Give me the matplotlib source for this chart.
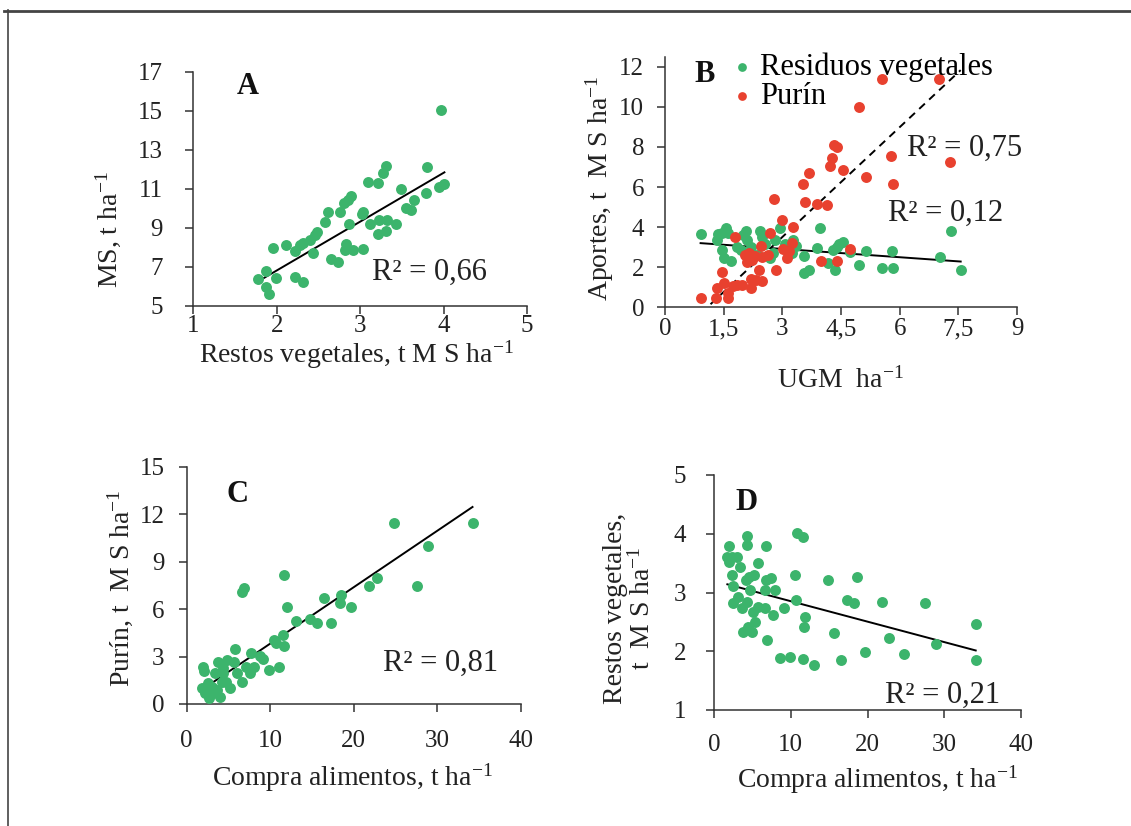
import numpy as np
import matplotlib
matplotlib.use("Agg")
import matplotlib.pyplot as plt
from matplotlib.lines import Line2D

plt.rcParams["font.family"] = ["Liberation Serif", "DejaVu Serif"]
plt.rcParams["mathtext.fontset"] = "custom"
plt.rcParams["mathtext.rm"] = "Liberation Serif"
plt.rcParams["mathtext.it"] = "Liberation Serif:italic"

GREEN = "#3cb46c"
RED = "#e8412f"

# A: restos vegetales vs MS
a_restos = [3.97, 3.80, 4.01, 3.95, 3.79, 3.65, 3.61, 3.55, 3.49, 3.31, 3.27, 3.21, 3.09, 3.03, 3.02,
            3.12, 3.23, 3.32, 3.43, 3.31, 3.21, 2.89, 2.85, 2.81, 2.76, 2.87, 2.62, 2.58, 2.48, 2.46,
            2.40, 2.32, 2.28, 2.22, 2.11, 1.96, 2.43, 2.83, 2.82, 2.91, 3.03, 2.65, 2.73, 2.22, 2.32,
            1.99, 1.87, 1.77, 1.87, 1.91]
a_ms = [15.03, 12.13, 11.24, 11.10, 10.76, 10.42, 9.90, 10.00, 11.00, 12.16, 11.80, 11.30, 11.36, 9.80, 9.70,
        9.20, 9.40, 9.40, 9.20, 8.85, 8.70, 10.62, 10.42, 10.28, 9.82, 9.19, 9.82, 9.30, 8.80, 8.62,
        8.37, 8.23, 8.10, 7.80, 8.10, 7.94, 7.72, 8.16, 7.85, 7.85, 7.90, 7.38, 7.26, 6.45, 6.23,
        6.40, 6.80, 6.37, 5.97, 5.58]
a_fit = (2.504, 1.798)  # slope, intercept

# B: aportes vs UGM/ha
b_ugm_res = [0.91, 1.34, 1.36, 1.47, 1.56, 1.62, 1.47, 1.51, 1.70, 1.83, 2.06, 2.09, 2.21, 2.43, 2.47,
             2.34, 2.68, 2.77, 2.81, 2.94, 3.07, 3.28, 3.24, 3.55, 3.55, 3.69, 3.88, 3.96, 4.17, 4.30,
             4.34, 4.40, 4.56, 4.74, 4.97, 5.14, 5.56, 5.81, 5.83, 7.03, 7.30, 7.56,
             1.95, 2.25, 2.55, 2.00, 3.35, 4.45]
b_res = [3.65, 3.37, 3.65, 3.73, 3.98, 3.73, 2.87, 2.45, 2.33, 3.03, 3.82, 3.37, 3.03, 3.83, 3.53,
         2.62, 2.45, 2.70, 3.37, 3.98, 3.17, 3.37, 2.70, 2.57, 1.73, 1.87, 2.95, 3.98, 2.23, 2.87,
         1.87, 3.03, 3.28, 2.77, 2.12, 2.82, 1.95, 2.83, 1.95, 2.50, 3.82, 1.87,
         2.85, 2.55, 3.15, 3.60, 3.05, 3.15]
b_ugm_pur = [0.91, 1.30, 1.34, 1.47, 1.51, 1.60, 1.62, 1.73, 1.79, 1.85, 1.98, 2.04, 2.10, 2.15, 2.21,
             2.21, 2.23, 2.30, 2.32, 2.41, 2.45, 2.47, 2.47, 2.64, 2.68, 2.79, 2.85, 2.98, 3.02, 3.11,
             3.18, 3.25, 3.28, 3.54, 3.58, 3.68, 3.88, 3.98, 4.13, 4.22, 4.26, 4.33, 4.41, 4.41, 4.56,
             4.74, 4.97, 5.15, 5.56, 5.78, 5.82, 7.01, 7.28]
b_pur = [0.45, 0.45, 0.95, 1.78, 1.23, 0.70, 0.45, 1.07, 3.50, 1.12, 1.12, 2.62, 2.28, 2.70, 0.95,
         1.40, 2.37, 2.57, 1.37, 1.87, 3.07, 2.53, 1.33, 2.62, 3.73, 5.42, 1.87, 4.37, 2.90, 2.45,
         2.82, 3.20, 4.03, 6.17, 5.25, 6.70, 5.17, 2.33, 5.12, 7.07, 7.45, 8.12, 8.00, 2.33, 6.87,
         2.90, 10.00, 6.50, 11.40, 7.53, 6.17, 11.40, 7.25]
b_res_fit = (-0.138, 3.326)
b_pur_fit = (1.826, -1.973)
b_xticks = [0, 1.5, 3, 4.5, 6, 7.5, 9]
b_xticklabels = ["0", "1,5", "3", "4,5", "6", "7,5", "9"]

# C: compra alimentos vs purín
c_compra = [34.2, 24.8, 28.9, 27.5, 22.8, 21.8, 19.7, 18.5, 18.3, 16.4, 17.3, 15.6, 14.7, 13.1, 12.0,
            11.6, 11.5, 11.6, 10.4, 10.7, 11.0, 9.8, 9.1, 8.8, 7.7, 8.0, 7.6, 6.9, 6.6, 5.8,
            5.6, 6.6, 7.1, 5.2, 4.8, 4.4, 3.8, 4.2, 4.0, 3.6, 3.2, 2.7, 2.2, 1.8, 1.9,
            2.1, 2.5, 3.0, 3.4, 4.7, 4.4, 6.0]
c_purin = [11.43, 11.43, 10.0, 7.49, 7.95, 7.49, 6.16, 6.9, 6.41, 6.73, 5.15, 5.15, 5.36, 5.25, 6.16,
           8.16, 4.37, 3.67, 4.05, 3.84, 2.36, 2.15, 2.83, 3.04, 3.21, 2.36, 1.94, 7.32, 7.11, 3.48,
           2.68, 1.41, 2.36, 0.99, 2.78, 1.94, 2.68, 1.41, 0.46, 0.89, 0.68, 0.36, 0.68, 0.99, 2.36,
           2.11, 1.31, 1.1, 1.94, 1.41, 2.26, 1.94]
c_fit = (0.3568, 0.252)

# D: compra alimentos vs restos vegetales
d_compra = [10.86, 11.55, 4.26, 4.35, 6.77, 1.95, 1.74, 2.30, 2.95, 2.00, 3.39, 5.78, 2.30, 5.21, 4.17,
            4.60, 6.77, 7.43, 10.55, 14.89, 18.58, 2.52, 4.69, 6.64, 7.95, 3.17, 4.34, 2.52, 3.60, 5.78,
            6.64, 5.12, 7.73, 9.12, 10.64, 11.81, 11.77, 17.28, 18.28, 21.84, 27.49, 5.34, 3.82, 4.91, 4.47,
            6.86, 15.63, 22.8, 28.9, 34.1, 19.67, 24.8, 8.6, 9.9, 11.55, 13.07, 16.5, 34.1]
d_restos = [4.01, 3.95, 3.96, 3.81, 3.79, 3.79, 3.61, 3.60, 3.61, 3.52, 3.43, 3.50, 3.30, 3.30, 3.22,
            3.26, 3.22, 3.24, 3.30, 3.21, 3.27, 3.11, 3.04, 3.04, 3.04, 2.93, 2.83, 2.82, 2.74, 2.76,
            2.73, 2.66, 2.62, 2.74, 2.88, 2.59, 2.42, 2.88, 2.82, 2.84, 2.82, 2.49, 2.33, 2.32, 2.42,
            2.20, 2.31, 2.22, 2.12, 2.46, 1.98, 1.95, 1.89, 1.90, 1.86, 1.77, 1.85, 1.85]
d_fit = (-0.0348, 3.20)

W, H = 1131, 826
fig = plt.figure(figsize=(W / 100, H / 100), dpi=100)


def px(x, y):
    return x / W, 1 - y / H


def new_axes(left, top, right, bottom, xpad, ypad):
    ax = fig.add_axes([left / W, 1 - bottom / H, (right - left) / W, (bottom - top) / H])
    for s in ["top", "right"]:
        ax.spines[s].set_visible(False)
    for s in ["left", "bottom"]:
        ax.spines[s].set_color("#333333")
        ax.spines[s].set_linewidth(1.1)
    ax.tick_params(direction="out", length=6, width=1.1, colors="#333333",
                   labelsize=18, labelcolor="#222222")
    ax.tick_params(axis="x", pad=xpad)
    ax.tick_params(axis="y", pad=ypad)
    return ax


def trend(ax, x, fit, **kw):
    k, b = fit
    xs = np.array([min(x), max(x)])
    ax.plot(xs, k * xs + b, color="black", lw=1.4, **kw)


dot = dict(s=62, linewidths=0, zorder=3)

# panel A
axA = new_axes(193.3, 71.7, 527, 305.7, xpad=1, ypad=16)
axA.scatter(a_restos, a_ms, color=GREEN, **dot)
trend(axA, a_restos, a_fit)
axA.set_xlim(1, 5)
axA.set_ylim(5, 17)
axA.set_xticks([1, 2, 3, 4, 5])
axA.set_yticks(range(5, 18, 2))

# panel B
axB = new_axes(665, 56.7, 1017, 307.3, xpad=2, ypad=9)
axB.scatter(b_ugm_res, b_res, color=GREEN, label="Residuos vegetales", **dot)
axB.scatter(b_ugm_pur, b_pur, color=RED, label="Purín", **dot)
trend(axB, b_ugm_res, b_res_fit)
trend(axB, b_ugm_res, b_pur_fit, ls=(0, (4, 3)))
axB.set_xlim(0, 9)
axB.set_ylim(0, 12.5)
axB.set_xticks(b_xticks)
axB.set_xticklabels(b_xticklabels)
axB.set_yticks(range(0, 13, 2))
axB.legend(loc="upper left", bbox_to_anchor=(0.14, 1.065), frameon=False,
           fontsize=22, handletextpad=0.1, labelspacing=0.0, borderaxespad=0,
           markerscale=0.8, handlelength=1.0)

# panel C
axC = new_axes(186.7, 466.7, 521, 704, xpad=13, ypad=10)
axC.scatter(c_compra, c_purin, color=GREEN, **dot)
trend(axC, c_compra, c_fit)
axC.set_xlim(0, 40)
axC.set_ylim(0, 15)
axC.set_xticks(range(0, 41, 10))
axC.set_yticks(range(0, 16, 3))

# panel D
axD = new_axes(714, 475, 1021, 710, xpad=11, ypad=14)
axD.scatter(d_compra, d_restos, color=GREEN, **dot)
trend(axD, d_compra, d_fit)
axD.set_xlim(0, 40)
axD.set_ylim(1, 5)
axD.set_xticks(range(0, 41, 10))
axD.set_yticks(range(1, 6))

# axis titles
lab = dict(fontsize=20, color="#222222", ha="center", va="center")
fig.text(*px(108, 230), "MS, t ha$^{-1}$", rotation=90, **lab)
fig.text(*px(356, 355), "Restos vegetales, t M S ha$^{-1}$", **lab)
fig.text(*px(600, 188), "Aportes, t  M S ha$^{-1}$", rotation=90, **lab)
fig.text(*px(840, 380), "UGM  ha$^{-1}$", **lab)
fig.text(*px(120, 588), "Purín, t  M S ha$^{-1}$", rotation=90, **lab)
fig.text(*px(352, 778), "Compra alimentos, t ha$^{-1}$", **lab)
fig.text(*px(615, 608), "Restos vegetales,", rotation=90, **lab)
fig.text(*px(642, 608), "t  M S ha$^{-1}$", rotation=90, **lab)
fig.text(*px(877, 780), "Compra alimentos, t ha$^{-1}$", **lab)

# R² annotations
r2 = dict(fontsize=22, color="#222222", ha="left", va="center")
fig.text(*px(372, 272), "R² = 0,66", **r2)
fig.text(*px(907, 148), "R² = 0,75", **r2)
fig.text(*px(888, 213), "R² = 0,12", **r2)
fig.text(*px(383, 663), "R² = 0,81", **r2)
fig.text(*px(885, 695), "R² = 0,21", **r2)

# panel letters
let = dict(fontsize=22, fontweight="bold", color="#111111", ha="center", va="center")
fig.text(*px(248, 86), "A", **let)
fig.text(*px(705, 74), "B", **let)
fig.text(*px(238, 494), "C", **let)
fig.text(*px(747, 503), "D", **let)

# frame lines
fig.add_artist(Line2D([4 / W, 1], [1 - 10.5 / H] * 2, transform=fig.transFigure,
                      color="#444444", lw=2))
fig.add_artist(Line2D([8 / W] * 2, [1 - 10 / H, 0], transform=fig.transFigure,
                      color="#444444", lw=1.2))

fig.savefig("out.png", dpi=100)
